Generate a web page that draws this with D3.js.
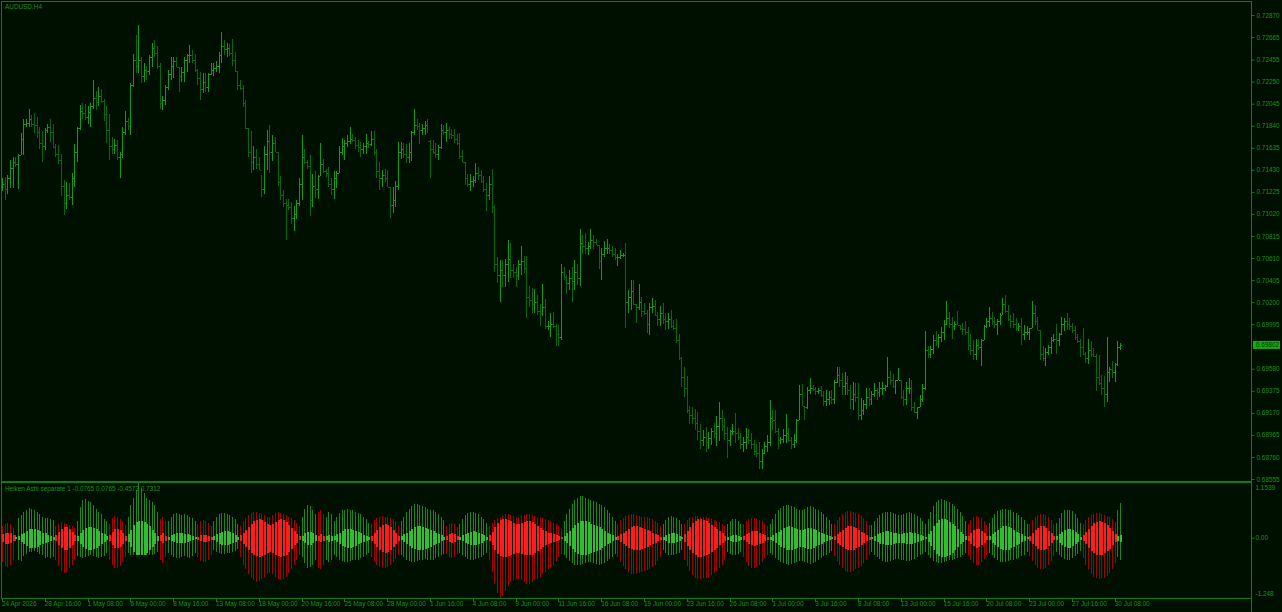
<!DOCTYPE html>
<html><head><meta charset="utf-8">
<script src="https://cdn.jsdelivr.net/npm/d3@7/dist/d3.min.js"></script>
<style>
html,body{margin:0;padding:0;background:#001000;overflow:hidden;}
svg{display:block;}
text{font-family:"Liberation Sans",Arial,sans-serif;}
</style></head><body>
<svg id="c" width="1282" height="612"></svg>
<script>
// ---- data: AUDUSD H4 bars (index 0 = 24 Apr 2026 00:00) ----
const firstOpen = 0.7127;
const highs = [
.7135,.7136,.7138,.7152,.7155,.7155,.7158,.7177,.7190,.7190,
.7200,.7194,.7196,.7192,.7183,.7179,.7182,.7186,.7190,.7186,
.7167,.7166,.7158,.7134,.7132,.7131,.7140,.7167,.7183,.7203,
.7205,.7204,.7202,.7205,.7227,.7216,.7220,.7218,.7209,.7202,
.7195,.7174,.7172,.7171,.7160,.7183,.7198,.7191,.7224,.7251,
.7268,.7278,.7248,.7242,.7240,.7250,.7261,.7264,.7258,.7242,
.7212,.7222,.7236,.7248,.7248,.7248,.7239,.7239,.7248,.7251,
.7259,.7254,.7251,.7237,.7234,.7233,.7233,.7233,.7242,.7242,
.7244,.7253,.7271,.7264,.7261,.7260,.7265,.7253,.7235,.7227,
.7222,.7208,.7182,.7179,.7165,.7162,.7155,.7138,.7165,.7180,
.7185,.7175,.7174,.7160,.7137,.7124,.7116,.7116,.7113,.7109,
.7115,.7135,.7175,.7162,.7152,.7157,.7139,.7142,.7138,.7168,
.7153,.7144,.7146,.7135,.7142,.7142,.7165,.7173,.7171,.7175,
.7183,.7176,.7174,.7171,.7169,.7168,.7176,.7170,.7179,.7179,
.7162,.7150,.7143,.7144,.7143,.7127,.7127,.7133,.7169,.7169,
.7168,.7167,.7168,.7179,.7200,.7190,.7187,.7186,.7188,.7190,
.7171,.7171,.7168,.7166,.7186,.7185,.7187,.7183,.7181,.7181,
.7176,.7177,.7161,.7150,.7139,.7139,.7137,.7149,.7146,.7143,
.7137,.7131,.7137,.7144,.7110,.7062,.7059,.7059,.7060,.7078,
.7075,.7055,.7053,.7059,.7072,.7063,.7063,.7035,.7033,.7032,
.7027,.7018,.7037,.7023,.7002,.7010,.7011,.7000,.6999,.7055,
.7053,.7045,.7050,.7053,.7059,.7055,.7088,.7082,.7084,.7076,
.7088,.7082,.7079,.7073,.7070,.7077,.7079,.7074,.7072,.7070,
.7065,.7068,.7066,.7075,.7031,.7041,.7041,.7018,.7037,.7025,
.7019,.7013,.7019,.7024,.7022,.7011,.7016,.7019,.7010,.7010,
.7013,.7003,.7004,.6990,.6969,.6960,.6951,.6923,.6922,.6921,
.6918,.6907,.6901,.6904,.6899,.6903,.6908,.6914,.6927,.6920,
.6912,.6904,.6901,.6907,.6917,.6903,.6898,.6895,.6903,.6902,
.6898,.6892,.6888,.6890,.6883,.6890,.6896,.6929,.6920,.6920,
.6903,.6895,.6902,.6916,.6903,.6895,.6897,.6911,.6943,.6944,
.6923,.6941,.6949,.6943,.6941,.6940,.6942,.6937,.6938,.6937,
.6938,.6948,.6960,.6960,.6954,.6955,.6951,.6943,.6946,.6945,
.6945,.6931,.6929,.6940,.6940,.6937,.6945,.6940,.6946,.6946,
.6943,.6969,.6956,.6953,.6948,.6959,.6948,.6938,.6946,.6949,
.6948,.6927,.6922,.6934,.6944,.6993,.6979,.6979,.6989,.6993,
.6990,.6997,.7003,.7021,.7011,.7006,.7002,.7012,.6999,.7001,
.7002,.6997,.6990,.6985,.6986,.6986,.6986,.6999,.7005,.7015,
.7011,.7006,.7004,.7010,.7024,.7027,.7017,.7008,.7010,.7005,
.7001,.7005,.6999,.6998,.6996,.7021,.7017,.7006,.6994,.6979,
.6977,.6980,.6988,.6990,.7000,.6991,.7006,.7005,.7010,.7005,
.7001,.6998,.6990,.6986,.6996,.6974,.6986,.6984,.6977,.6972,
.6971,.6952,.6951,.6988,.6960,.6965,.6963,.6984,.6982];
const lows = [
.7123,.7115,.7121,.7126,.7126,.7146,.7125,.7157,.7157,.7183,
.7183,.7183,.7177,.7173,.7162,.7150,.7161,.7177,.7169,.7163,
.7155,.7148,.7119,.7101,.7107,.7115,.7110,.7127,.7150,.7180,
.7190,.7189,.7186,.7183,.7200,.7199,.7202,.7205,.7188,.7168,
.7152,.7158,.7158,.7152,.7135,.7154,.7175,.7180,.7175,.7220,
.7233,.7233,.7224,.7225,.7227,.7231,.7239,.7248,.7237,.7200,
.7199,.7203,.7217,.7227,.7228,.7239,.7215,.7225,.7225,.7234,
.7242,.7242,.7234,.7222,.7208,.7214,.7215,.7215,.7231,.7230,
.7234,.7233,.7242,.7250,.7248,.7249,.7240,.7234,.7217,.7217,
.7201,.7181,.7155,.7140,.7143,.7144,.7143,.7118,.7121,.7143,
.7140,.7151,.7160,.7128,.7115,.7108,.7078,.7106,.7093,.7086,
.7097,.7109,.7115,.7148,.7144,.7100,.7108,.7117,.7116,.7137,
.7140,.7136,.7127,.7120,.7116,.7126,.7140,.7157,.7152,.7164,
.7167,.7169,.7162,.7160,.7155,.7158,.7158,.7163,.7165,.7157,
.7135,.7124,.7127,.7132,.7127,.7098,.7103,.7108,.7124,.7153,
.7154,.7149,.7149,.7151,.7175,.7180,.7167,.7175,.7175,.7177,
.7135,.7158,.7154,.7152,.7162,.7175,.7169,.7172,.7172,.7168,
.7166,.7153,.7150,.7129,.7127,.7123,.7127,.7131,.7134,.7131,
.7122,.7105,.7115,.7103,.7048,.7038,.7020,.7034,.7034,.7039,
.7042,.7042,.7034,.7041,.7045,.7047,.7005,.7015,.7010,.7010,
.7008,.6998,.7007,.6995,.6994,.6988,.6996,.6979,.6979,.6985,
.7041,.7028,.7031,.7020,.7031,.7036,.7035,.7065,.7065,.7064,
.7069,.7069,.7073,.7051,.7041,.7062,.7065,.7065,.7062,.7059,
.7054,.7060,.7062,.6996,.7010,.7013,.7017,.7001,.7013,.7006,
.7008,.6991,.6989,.7010,.7007,.6998,.6998,.7000,.6994,.6995,
.6996,.6994,.6982,.6966,.6941,.6932,.6917,.6907,.6907,.6901,
.6892,.6883,.6886,.6881,.6883,.6887,.6894,.6886,.6891,.6900,
.6892,.6875,.6886,.6896,.6889,.6892,.6883,.6881,.6883,.6888,
.6883,.6878,.6876,.6865,.6865,.6879,.6881,.6886,.6901,.6898,
.6883,.6888,.6889,.6889,.6890,.6883,.6884,.6889,.6910,.6923,
.6910,.6921,.6935,.6937,.6934,.6935,.6932,.6923,.6923,.6924,
.6925,.6925,.6945,.6941,.6934,.6934,.6934,.6921,.6920,.6927,
.6910,.6910,.6915,.6921,.6923,.6924,.6932,.6929,.6932,.6934,
.6937,.6941,.6943,.6940,.6935,.6948,.6930,.6923,.6924,.6935,
.6919,.6917,.6911,.6922,.6927,.6938,.6968,.6968,.6972,.6979,
.6977,.6983,.6985,.6999,.6996,.6986,.6994,.6999,.6994,.6989,
.6989,.6975,.6971,.6966,.6966,.6975,.6961,.6985,.6996,.6997,
.6999,.6996,.6989,.6999,.7008,.7010,.7002,.6996,.6996,.6993,
.6993,.6980,.6985,.6989,.6985,.6996,.6999,.6994,.6966,.6965,
.6961,.6971,.6972,.6983,.6972,.6979,.6989,.6993,.6994,.6994,
.6991,.6985,.6982,.6969,.6971,.6963,.6962,.6969,.6969,.6937,
.6943,.6934,.6922,.6927,.6946,.6949,.6946,.6961,.6975];
const closes = [
.7130,.7125,.7135,.7145,.7150,.7148,.7157,.7172,.7186,.7187,
.7190,.7186,.7185,.7178,.7168,.7165,.7180,.7183,.7178,.7164,
.7158,.7152,.7128,.7112,.7120,.7118,.7135,.7160,.7182,.7198,
.7196,.7192,.7197,.7202,.7210,.7206,.7212,.7207,.7195,.7180,
.7165,.7162,.7166,.7155,.7158,.7178,.7188,.7184,.7222,.7245,
.7240,.7245,.7230,.7236,.7235,.7248,.7256,.7252,.7240,.7205,
.7208,.7220,.7232,.7240,.7244,.7239,.7230,.7234,.7245,.7250,
.7250,.7245,.7236,.7228,.7218,.7225,.7220,.7232,.7236,.7238,
.7240,.7250,.7258,.7255,.7256,.7252,.7245,.7235,.7222,.7219,
.7205,.7182,.7160,.7150,.7155,.7148,.7143,.7125,.7158,.7170,
.7160,.7168,.7160,.7132,.7120,.7112,.7110,.7108,.7098,.7102,
.7112,.7130,.7155,.7150,.7147,.7115,.7128,.7125,.7137,.7148,
.7142,.7140,.7130,.7125,.7135,.7140,.7160,.7165,.7168,.7170,
.7172,.7171,.7166,.7164,.7162,.7165,.7168,.7167,.7172,.7160,
.7142,.7135,.7138,.7135,.7127,.7110,.7115,.7128,.7160,.7162,
.7158,.7155,.7160,.7178,.7185,.7184,.7180,.7182,.7185,.7170,
.7162,.7160,.7158,.7164,.7180,.7178,.7180,.7176,.7175,.7172,
.7168,.7156,.7150,.7135,.7130,.7133,.7134,.7140,.7138,.7133,
.7125,.7120,.7130,.7108,.7055,.7045,.7050,.7045,.7055,.7060,
.7050,.7048,.7045,.7055,.7058,.7052,.7025,.7022,.7018,.7020,
.7012,.7010,.7015,.6998,.6998,.7000,.6998,.6990,.6988,.7048,
.7043,.7038,.7042,.7040,.7048,.7042,.7075,.7072,.7070,.7072,
.7078,.7076,.7073,.7058,.7065,.7070,.7070,.7068,.7065,.7062,
.7062,.7064,.7064,.7020,.7025,.7030,.7018,.7015,.7020,.7012,
.7010,.7000,.7015,.7016,.7008,.7004,.7010,.7004,.7002,.7004,
.6998,.6996,.6985,.6968,.6950,.6940,.6920,.6915,.6912,.6908,
.6900,.6892,.6895,.6890,.6894,.6900,.6898,.6905,.6912,.6905,
.6898,.6892,.6900,.6900,.6898,.6895,.6888,.6890,.6895,.6892,
.6888,.6882,.6880,.6872,.6880,.6886,.6890,.6912,.6910,.6900,
.6892,.6893,.6896,.6898,.6892,.6888,.6892,.6910,.6935,.6923,
.6922,.6938,.6940,.6939,.6937,.6938,.6934,.6928,.6930,.6932,
.6930,.6946,.6952,.6948,.6942,.6945,.6938,.6930,.6935,.6932,
.6915,.6920,.6925,.6932,.6930,.6935,.6938,.6936,.6940,.6940,
.6942,.6950,.6948,.6942,.6948,.6948,.6932,.6930,.6940,.6940,
.6922,.6918,.6922,.6930,.6940,.6975,.6972,.6976,.6985,.6984,
.6988,.6992,.7000,.7005,.7000,.6998,.7000,.6999,.6996,.6995,
.6992,.6980,.6975,.6972,.6980,.6978,.6985,.6998,.7002,.7005,
.7002,.7000,.7002,.7008,.7018,.7012,.7004,.7002,.7000,.6996,
.6998,.6990,.6992,.6992,.6996,.7010,.7002,.6994,.6972,.6968,
.6974,.6978,.6985,.6986,.6985,.6990,.7000,.7002,.7000,.6998,
.6994,.6988,.6984,.6978,.6972,.6968,.6975,.6972,.6970,.6950,
.6945,.6940,.6935,.6955,.6958,.6955,.6962,.6978,.6980];
const lastPrice = 0.69802;
const priceTicks = [0.72870,0.72665,0.72455,0.72250,0.72045,0.71840,0.71635,0.71430,0.71225,0.71020,
  0.70815,0.70610,0.70405,0.70200,0.69995,0.69580,0.69375,0.69170,0.68965,0.68760,0.68555];
const timeTickIndex = [0,16,32,48,64,80,96,112,128,144,160,176,192,208,224,240,256,272,288,304,320,336,352,368,384,400,416];
const timeTickLabels = ["24 Apr 2026","28 Apr 16:00","1 May 08:00","6 May 00:00","8 May 16:00","13 May 08:00",
  "18 May 00:00","20 May 16:00","25 May 08:00","28 May 00:00","1 Jun 16:00","4 Jun 08:00","9 Jun 00:00",
  "11 Jun 16:00","16 Jun 08:00","19 Jun 00:00","23 Jun 16:00","26 Jun 08:00","1 Jul 00:00","3 Jul 16:00",
  "8 Jul 08:00","13 Jul 00:00","15 Jul 16:00","20 Jul 08:00","23 Jul 00:00","27 Jul 16:00","30 Jul 08:00"];

// ---- Heiken Ashi separate: wick top, wick bottom, half-body (sign: + bull / - bear) ----
const haUp = [
.25,.30,.32,.30,.22,.06,
.42,.48,.55,.60,.63,.62,.58,.55,.50,.45,.42,.42,.40,.38,
.25,.30,.33,.32,.30,.28,.26,.22,
.35,.65,.80,.82,.78,.75,.70,.62,.55,.50,.40,.35,
.30,.42,.46,.45,.40,.35,.28,
.45,.70,.85,1.00,1.1539,1.05,.95,.85,.80,.75,.70,.55,
.40,.45,.35,
.35,.45,.50,.52,.50,.48,.50,.48,.45,.42,.35,
.30,.36,.38,.36,.32,.25,
.35,.45,.50,.52,.52,.50,.48,.45,.40,.30,
.25,.35,.42,.48,.52,.55,.55,.52,.50,.48,.45,.45,.48,.52,.55,.52,.50,.48,.45,.42,.38,.32,.25,
.45,.62,.70,.68,.60,.50,.55,.60,.50,.45,.55,.50,
.35,.45,.52,.58,.60,.62,.60,.58,.55,.52,.50,.45,.40,.32,
.30,.38,.42,.45,.46,.45,.44,.42,.40,.35,.28,
.35,.45,.55,.62,.68,.72,.72,.70,.68,.65,.62,.60,.58,.55,.50,.45,.38,
.25,.30,.32,.30,.24,
.30,.40,.48,.52,.55,.55,.52,.50,.45,.40,.32,
.25,.32,.38,.42,.45,.48,.50,.50,.48,.46,.45,.45,.46,.48,.50,.50,.48,.46,.45,.44,.42,.40,.38,.35,.32,.30,.26,.22,
.35,.50,.62,.72,.80,.85,.88,.88,.85,.82,.80,.78,.75,.72,.70,.65,.60,.52,.45,.35,
.30,.38,.42,.46,.48,.50,.50,.48,.46,.45,.45,.44,.42,.40,.36,.32,.26,
.30,.38,.44,.46,.45,.42,.38,.30,
.30,.38,.42,.45,.46,.46,.45,.44,.44,.42,.40,.38,.36,.34,.30,.26,
.30,.36,.40,.40,.36,.30,.30,.36,.40,.42,.42,.40,.38,.35,.30,.25,
.30,.40,.50,.58,.64,.68,.70,.70,.68,.65,.62,.60,.60,.62,.65,.68,.66,.62,.58,.54,.50,.45,.38,.30,
.30,.38,.45,.50,.54,.56,.56,.54,.52,.50,.46,.42,.36,.28,
.28,.35,.42,.48,.52,.55,.55,.54,.52,.50,.48,.48,.50,.52,.54,.52,.50,.46,.42,.36,.30,
.40,.55,.68,.76,.80,.82,.80,.78,.75,.72,.68,.62,.55,.46,.36,
.30,.38,.44,.46,.45,.42,.36,.28,
.32,.42,.50,.56,.60,.62,.62,.60,.58,.55,.52,.48,.44,.38,.30,
.30,.38,.44,.48,.50,.50,.48,.44,.38,.30,
.32,.42,.52,.58,.60,.60,.56,.50,.42,.32,
.30,.38,.44,.48,.50,.52,.52,.50,.48,.46,.44,.40,.34,
.60,.7312];
const haDown = [
-.50,-.58,-.60,-.55,-.45,-.05,
-.45,-.48,-.38,-.32,-.28,-.28,-.26,-.28,-.32,-.35,-.42,-.40,-.42,-.40,
-.45,-.58,-.68,-.72,-.70,-.62,-.55,-.45,
-.38,-.40,-.42,-.40,-.38,-.36,-.38,-.40,-.42,-.40,-.38,-.30,
-.45,-.55,-.62,-.62,-.58,-.50,-.40,
-.30,-.34,-.36,-.35,-.30,-.30,-.32,-.34,-.36,-.35,-.32,-.28,
-.45,-.52,-.40,
-.30,-.35,-.40,-.42,-.42,-.40,-.38,-.40,-.42,-.38,-.30,
-.40,-.48,-.50,-.50,-.45,-.35,
-.25,-.28,-.30,-.32,-.32,-.30,-.30,-.28,-.26,-.22,
-.40,-.55,-.65,-.75,-.82,-.88,-.92,-.90,-.85,-.80,-.75,-.72,-.75,-.80,-.85,-.88,-.85,-.80,-.72,-.65,-.55,-.45,-.35,
-.40,-.52,-.62,-.60,-.55,-.45,-.62,-.65,-.55,-.45,-.50,-.45,
-.35,-.40,-.45,-.48,-.50,-.50,-.48,-.46,-.45,-.45,-.42,-.40,-.36,-.30,
-.40,-.48,-.55,-.60,-.62,-.62,-.60,-.56,-.50,-.44,-.36,
-.35,-.40,-.45,-.48,-.50,-.50,-.48,-.46,-.45,-.44,-.45,-.46,-.45,-.42,-.40,-.36,-.32,
-.32,-.40,-.42,-.40,-.32,
-.30,-.36,-.40,-.44,-.45,-.45,-.44,-.42,-.40,-.36,-.30,
-.45,-.70,-.95,-1.15,-1.248,-1.20,-1.10,-1.00,-.92,-.88,-.85,-.85,-.88,-.92,-.95,-.95,-.92,-.88,-.85,-.80,-.75,-.70,-.65,-.60,-.55,-.48,-.40,-.32,
-.35,-.42,-.48,-.52,-.55,-.56,-.55,-.54,-.52,-.50,-.50,-.52,-.54,-.55,-.54,-.52,-.48,-.44,-.40,-.32,
-.40,-.50,-.58,-.65,-.70,-.74,-.75,-.74,-.72,-.70,-.68,-.66,-.64,-.60,-.55,-.48,-.40,
-.25,-.30,-.34,-.36,-.35,-.33,-.30,-.25,
-.45,-.58,-.68,-.76,-.82,-.86,-.86,-.84,-.82,-.80,-.76,-.72,-.68,-.62,-.55,-.46,
-.28,-.32,-.35,-.35,-.32,-.28,-.40,-.50,-.58,-.62,-.62,-.60,-.56,-.50,-.42,-.34,
-.30,-.36,-.42,-.46,-.50,-.52,-.54,-.55,-.54,-.52,-.50,-.48,-.48,-.50,-.52,-.54,-.52,-.50,-.46,-.42,-.38,-.34,-.30,-.26,
-.38,-.48,-.56,-.62,-.68,-.70,-.70,-.68,-.65,-.62,-.58,-.52,-.45,-.36,
-.28,-.34,-.40,-.44,-.48,-.50,-.50,-.48,-.46,-.44,-.44,-.45,-.46,-.48,-.48,-.46,-.44,-.40,-.36,-.32,-.28,
-.35,-.42,-.48,-.50,-.52,-.52,-.50,-.48,-.46,-.45,-.44,-.42,-.40,-.36,-.30,
-.36,-.45,-.52,-.56,-.55,-.50,-.44,-.35,
-.30,-.36,-.42,-.46,-.50,-.50,-.50,-.48,-.46,-.45,-.44,-.42,-.38,-.34,-.28,
-.38,-.48,-.56,-.62,-.65,-.65,-.62,-.56,-.48,-.38,
-.28,-.34,-.40,-.44,-.45,-.45,-.42,-.38,-.33,-.27,
-.42,-.55,-.65,-.74,-.80,-.84,-.85,-.84,-.82,-.78,-.72,-.64,-.52,
-.40,-.4573];
const haBody = [
-.08,-.12,-.12,-.10,-.06,.02,
.04,.08,.12,.16,.20,.20,.20,.18,.15,.12,.10,.07,.05,.03,
-.06,-.14,-.20,-.24,-.24,-.20,-.14,-.06,
.05,.12,.18,.22,.24,.24,.22,.20,.16,.12,.08,.04,
-.06,-.14,-.20,-.20,-.18,-.12,-.05,
.08,.18,.28,.34,.36,.36,.34,.30,.25,.18,.12,.05,
-.06,-.10,-.05,
.03,.06,.08,.10,.10,.10,.09,.08,.06,.04,.02,
-.03,-.06,-.07,-.07,-.05,-.03,
.04,.08,.12,.14,.15,.15,.13,.10,.07,.03,
-.06,-.12,-.18,-.24,-.30,-.35,-.38,-.40,-.38,-.34,-.30,-.28,-.30,-.34,-.38,-.40,-.38,-.34,-.28,-.22,-.15,-.09,-.04,
.05,.10,.14,.14,.10,.06,-.05,-.08,-.05,.04,.07,.05,
.04,.08,.12,.16,.19,.20,.20,.18,.16,.13,.10,.07,.05,.03,
-.05,-.12,-.18,-.24,-.28,-.30,-.28,-.24,-.18,-.11,-.05,
.04,.08,.12,.16,.20,.23,.25,.25,.24,.22,.20,.18,.15,.12,.09,.06,.03,
-.04,-.08,-.10,-.08,-.04,
.03,.06,.09,.12,.14,.15,.14,.12,.09,.06,.03,
-.06,-.14,-.24,-.32,-.38,-.40,-.40,-.38,-.35,-.32,-.30,-.30,-.32,-.34,-.36,-.36,-.34,-.30,-.26,-.22,-.18,-.15,-.12,-.10,-.08,-.06,-.04,-.02,
.05,.10,.16,.22,.28,.32,.35,.36,.35,.33,.30,.28,.26,.24,.20,.16,.12,.09,.06,.03,
-.04,-.08,-.12,-.16,-.20,-.23,-.25,-.25,-.24,-.22,-.20,-.18,-.15,-.12,-.09,-.06,-.03,
.03,.06,.09,.10,.10,.08,.05,.02,
-.08,-.16,-.24,-.31,-.36,-.40,-.40,-.38,-.35,-.32,-.28,-.24,-.20,-.15,-.10,-.05,
.03,.05,.07,.07,.05,.03,-.04,-.08,-.12,-.15,-.16,-.15,-.12,-.09,-.06,-.03,
.03,.06,.10,.14,.18,.21,.24,.25,.24,.22,.20,.18,.18,.20,.22,.22,.20,.17,.14,.11,.08,.06,.04,.02,
-.04,-.09,-.14,-.18,-.22,-.25,-.25,-.24,-.21,-.18,-.14,-.10,-.06,-.03,
.02,.05,.08,.11,.13,.15,.15,.14,.12,.10,.09,.09,.10,.12,.13,.12,.10,.08,.06,.04,.02,
.08,.16,.25,.32,.38,.40,.40,.38,.34,.30,.25,.19,.13,.08,.04,
-.05,-.11,-.17,-.20,-.19,-.15,-.10,-.04,
.04,.09,.14,.18,.22,.25,.25,.24,.21,.18,.14,.11,.08,.05,.02,
-.05,-.11,-.17,-.22,-.25,-.25,-.22,-.16,-.10,-.04,
.04,.09,.14,.18,.20,.20,.17,.13,.08,.03,
-.06,-.13,-.20,-.26,-.31,-.34,-.35,-.34,-.31,-.27,-.22,-.15,-.08,
.05,.0765];
const subTicks = [1.1539, 0.00, -1.248];
const subTickLabels = ["1.1539","0.00","-1.248"];
const symbolTitle = "AUDUSD,H4";
const subTitle = "Heiken Ashi separate 1 -0.0765 0.0765 -0.4573 0.7312";

// ---- drawing ----
const W = 1282, H = 612, FS = "6.4px";
const C = {bg:"#001000", frame:"#0f7d0f", text:"#1e8f1e", up:"#169a16", down:"#0a660a", priceBox:"#0fae0f",
           haWickUp:"#1c861c", haBodyUp:"#2fbf2f", haWickDn:"#a60000", haBodyDn:"#ff1c1c"};
const svg = d3.select("#c");
svg.append("rect").attr("width",W).attr("height",H).attr("fill",C.bg);

const n = highs.length;
const opens = closes.map((c,i)=> i===0 ? firstOpen : closes[i-1]);
const x = d3.scaleLinear().domain([0, 418]).range([2, 2 + 2.675*418]);
const y = d3.scaleLinear().domain([0.685364, 0.730002]).range([481, 1]);
const ySub = d3.scaleLinear().domain([-1.248, 1.1539]).range([598, 483]);

// frame
const g0 = svg.append("g").attr("shape-rendering","crispEdges");
g0.append("line").attr("x1",1.5).attr("x2",1.5).attr("y1",1).attr("y2",598).attr("stroke",C.frame);
g0.append("line").attr("x1",1).attr("x2",1252).attr("y1",1.5).attr("y2",1.5).attr("stroke",C.frame);
g0.append("line").attr("x1",1251.5).attr("x2",1251.5).attr("y1",1).attr("y2",612).attr("stroke",C.frame);
g0.append("line").attr("x1",1).attr("x2",1252).attr("y1",481.5).attr("y2",481.5).attr("stroke",C.frame).attr("stroke-width",2);
g0.append("line").attr("x1",1).attr("x2",1252).attr("y1",598.5).attr("y2",598.5).attr("stroke",C.frame);

// price bars
const bars = svg.append("g").attr("shape-rendering","crispEdges");
const idx = d3.range(n);
const px = i => Math.round(x(i)) + 0.5;
const col = i => closes[i] >= opens[i] ? C.up : C.down;
bars.selectAll("line.hl").data(idx).join("line")
  .attr("x1",px).attr("x2",px)
  .attr("y1",i=>y(highs[i])).attr("y2",i=>y(lows[i]))
  .attr("stroke",col);
bars.selectAll("rect.o").data(idx).join("rect").attr("class","o")
  .attr("x",i=>Math.round(x(i))-1).attr("y",i=>Math.round(y(opens[i])))
  .attr("width",1).attr("height",1).attr("fill",col);
bars.selectAll("rect.c").data(idx).join("rect").attr("class","c")
  .attr("x",i=>Math.round(x(i))+1).attr("y",i=>Math.round(y(closes[i])))
  .attr("width",1).attr("height",1).attr("fill",col);

// Heiken Ashi sub-window
const ha = svg.append("g").attr("shape-rendering","crispEdges");
const hIdx = d3.range(haUp.length);
ha.selectAll("line.w").data(hIdx).join("line").attr("class","w")
  .attr("x1",px).attr("x2",px)
  .attr("y1",i=>ySub(haUp[i])).attr("y2",i=>ySub(haDown[i]))
  .attr("stroke",i=> haBody[i] >= 0 ? C.haWickUp : C.haWickDn);
ha.selectAll("rect.b").data(hIdx).join("rect").attr("class","b")
  .attr("x",i=>Math.round(x(i))).attr("width",2)
  .attr("y",i=>ySub(Math.abs(haBody[i])))
  .attr("height",i=>Math.max(1, ySub(-Math.abs(haBody[i])) - ySub(Math.abs(haBody[i]))))
  .attr("fill",i=> haBody[i] >= 0 ? C.haBodyUp : C.haBodyDn);

// right price axis
const ax = svg.append("g").attr("transform","translate(1251.5,0)")
  .call(d3.axisRight(y).tickValues(priceTicks).tickSize(3).tickPadding(2).tickFormat(d=>d.toFixed(5)));
ax.select(".domain").remove();
ax.selectAll("line").attr("stroke",C.frame);
ax.selectAll("text").attr("fill",C.text).attr("font-size",FS).attr("font-family","Liberation Sans, Arial, sans-serif");

// sub axis
const axs = svg.append("g").attr("transform","translate(1251.5,0)");
axs.selectAll("text").data(subTicks).join("text")
  .attr("x",4).attr("y",(d,i)=> i===0 ? ySub(d)+4.5 : (i===2 ? ySub(d)-4.5 : ySub(d)))
  .attr("dy","0.35em").attr("fill",C.text).attr("font-size",FS).text((d,i)=>subTickLabels[i]);
axs.append("line").attr("x1",0).attr("x2",3).attr("y1",ySub(0)).attr("y2",ySub(0)).attr("stroke",C.frame);

// current price label
const yp = y(lastPrice);
svg.append("rect").attr("x",1253).attr("y",yp-4).attr("width",27).attr("height",8).attr("fill",C.priceBox);
svg.append("text").attr("x",1256).attr("y",yp).attr("dy","0.35em").attr("font-size",FS)
  .attr("fill","#003000").text(lastPrice.toFixed(5));

// bottom time axis
const axb = svg.append("g").attr("transform","translate(0,598.5)")
  .call(d3.axisBottom(x).tickValues(timeTickIndex).tickSize(3).tickFormat((d,i)=>timeTickLabels[i]));
axb.select(".domain").remove();
axb.selectAll("line").attr("stroke",C.frame).attr("shape-rendering","crispEdges");
axb.selectAll("text").attr("text-anchor","start").attr("y",5.5).attr("dy","0.35em").attr("dx",-0.5)
  .attr("fill",C.text).attr("font-size",FS);

// titles
svg.append("text").attr("x",5).attr("y",6.5).attr("dy","0.35em").attr("font-size",FS).attr("fill",C.text).text(symbolTitle);
svg.append("text").attr("x",5).attr("y",488.5).attr("dy","0.35em").attr("font-size",FS).attr("fill",C.text).text(subTitle);
</script>
</body></html>
